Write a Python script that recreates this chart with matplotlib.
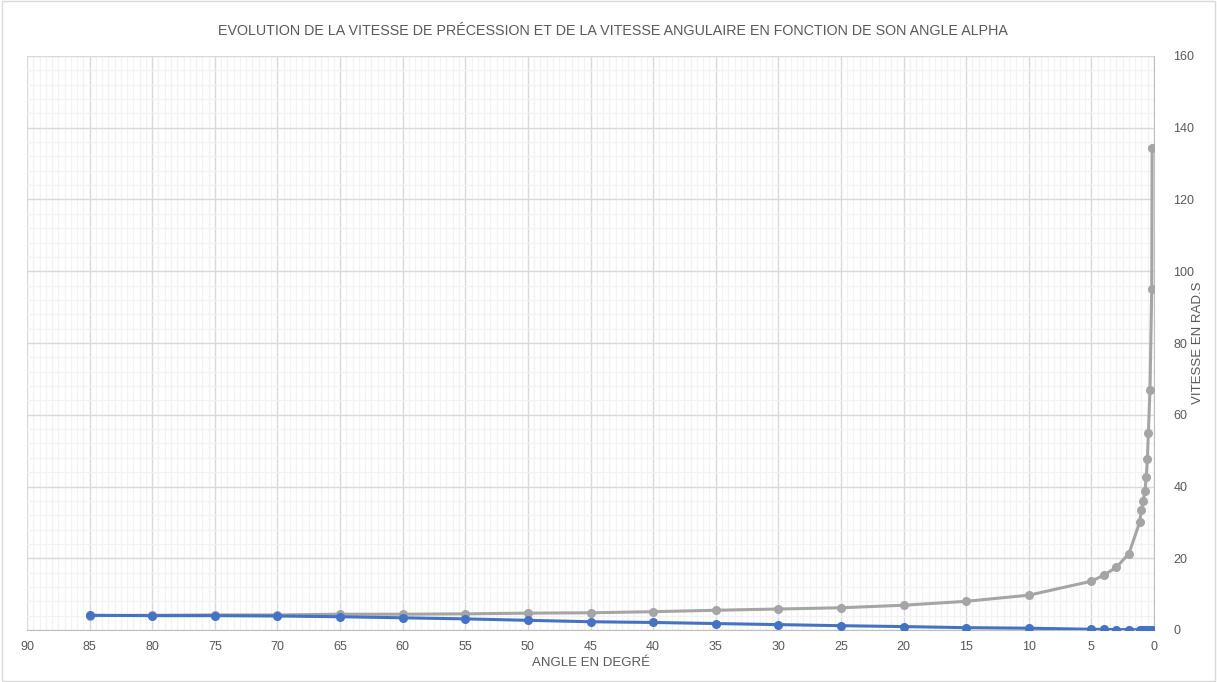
import matplotlib
matplotlib.use('Agg')
import matplotlib.pyplot as plt
from matplotlib.ticker import MultipleLocator

# Data
angle_gris = [85, 80, 75, 70, 65, 60, 55, 50, 45, 40, 35, 30, 25, 20, 15, 10, 5, 4, 3, 2,
              1.15, 1.0, 0.85, 0.72, 0.62, 0.53, 0.45, 0.32, 0.18, 0.15]
vitesse_gris = [4.0, 4.1, 4.2, 4.2, 4.4, 4.4, 4.5, 4.7, 4.8, 5.1, 5.5, 5.85, 6.2, 6.9, 8.0, 9.7, 13.6, 15.3, 17.5, 21.3,
                30.0, 33.5, 36.0, 38.8, 42.6, 47.6, 55.0, 67.0, 95.0, 134.3]

angle_bleu = [85, 80, 75, 70, 65, 60, 55, 50, 45, 40, 35, 30, 25, 20, 15, 10, 5, 4, 3, 2,
              1.15, 1.0, 0.85, 0.72, 0.62, 0.53, 0.45, 0.32, 0.18, 0.15]
vitesse_bleu = [4.1, 4.0, 4.0, 3.9, 3.7, 3.4, 3.1, 2.7, 2.3, 2.1, 1.8, 1.5, 1.2, 0.95, 0.65, 0.5, 0.2, 0.15, 0.12, 0.1,
                0.08, 0.07, 0.06, 0.06, 0.05, 0.05, 0.04, 0.04, 0.03, 0.03]

title = "EVOLUTION DE LA VITESSE DE PRÉCESSION ET DE LA VITESSE ANGULAIRE EN FONCTION DE SON ANGLE ALPHA"
xlabel = "ANGLE EN DEGRÉ"
ylabel = "VITESSE EN RAD.S"

plt.rcParams['font.family'] = ['Liberation Sans', 'DejaVu Sans']
txt_color = '#595959'

fig = plt.figure(figsize=(12.17, 6.82), dpi=100)
ax = fig.add_axes([27 / 1217, 52 / 682, 1127 / 1217, 574 / 682])

# Outer chart border
fig.patches.append(plt.Rectangle((0.002, 0.002), 0.996, 0.996, transform=fig.transFigure,
                                 fill=False, edgecolor='#D9D9D9', linewidth=1))

ax.plot(angle_gris, vitesse_gris, color='#A5A5A5', linewidth=2.2, marker='o', markersize=5.5, zorder=3)
ax.plot(angle_bleu, vitesse_bleu, color='#4472C4', linewidth=2.2, marker='o', markersize=5.5, zorder=4)

ax.set_xlim(90, 0)
ax.set_ylim(0, 160)
ax.xaxis.set_major_locator(MultipleLocator(5))
ax.xaxis.set_minor_locator(MultipleLocator(0.5))
ax.yaxis.set_major_locator(MultipleLocator(20))
ax.yaxis.set_minor_locator(MultipleLocator(4))

ax.yaxis.tick_right()
ax.yaxis.set_label_position('right')

ax.grid(which='major', color='#D9D9D9', linewidth=1)
ax.grid(which='minor', color='#F2F2F2', linewidth=0.9)
ax.set_axisbelow(True)

for side in ['top', 'left']:
    ax.spines[side].set_visible(False)
ax.spines['bottom'].set_color('#BFBFBF')
ax.spines['right'].set_color('#BFBFBF')

ax.tick_params(which='both', length=0, colors=txt_color, labelsize=9)
ax.tick_params(axis='x', pad=8)
ax.tick_params(axis='y', pad=14)

ax.set_xlabel(xlabel, color=txt_color, fontsize=9.5, labelpad=3)
ax.set_ylabel(ylabel, color=txt_color, fontsize=9.5, labelpad=-2)

fig.text(0.504, 0.955, title, ha='center', va='center', color=txt_color, fontsize=10.3)

fig.savefig('out.png', dpi=100)
plt.close()
